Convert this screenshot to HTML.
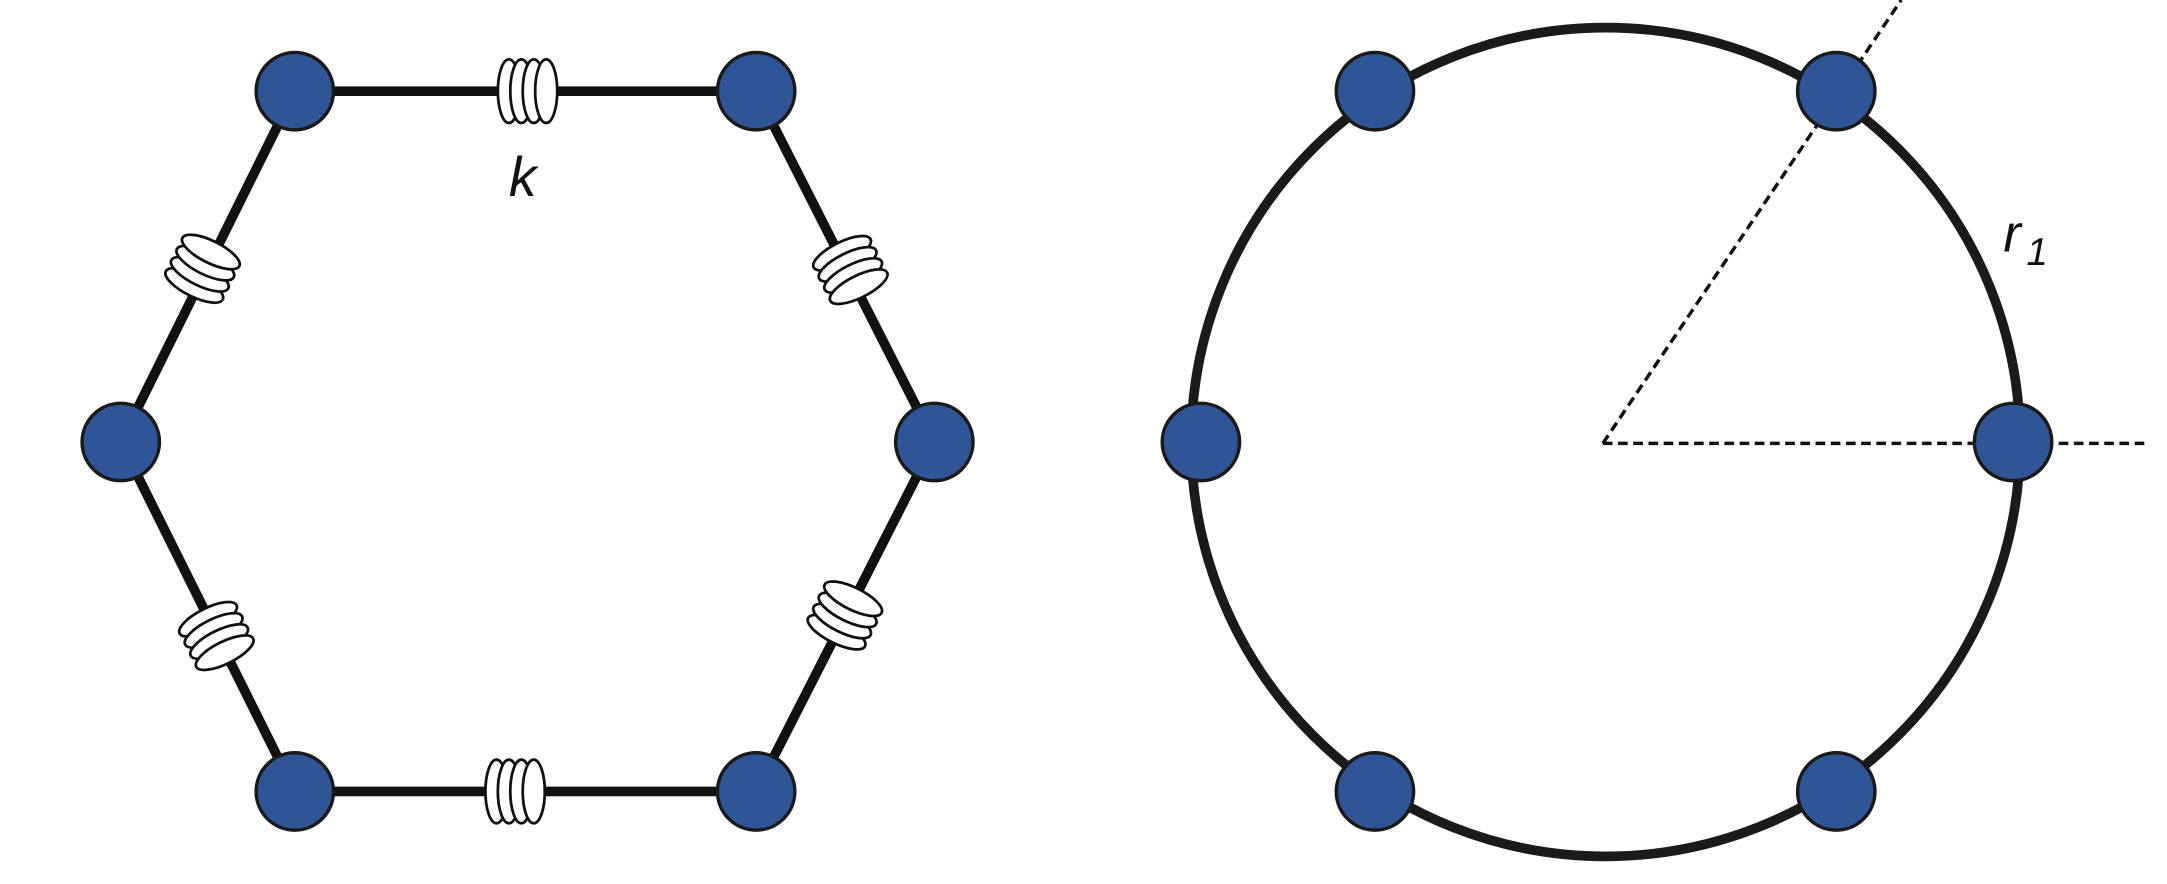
<!DOCTYPE html>
<html><head><meta charset="utf-8"><style>html,body{margin:0;padding:0;background:#fff}svg{display:block}</style></head>
<body>
<svg width="2167" height="884" viewBox="0 0 1568 640" xmlns="http://www.w3.org/2000/svg">
<defs>
<g id="spring">
<ellipse cx="-13" cy="0" rx="8" ry="23" fill="#fff" stroke="#111" stroke-width="2"/>
<ellipse cx="-4" cy="0" rx="8" ry="23" fill="#fff" stroke="#111" stroke-width="2"/>
<ellipse cx="5" cy="0" rx="8" ry="23" fill="#fff" stroke="#111" stroke-width="2"/>
<ellipse cx="14" cy="0" rx="8" ry="23" fill="#fff" stroke="#111" stroke-width="2"/>
</g>
</defs>
<g>
<polygon points="213,66 547,66 676,320 547,573 213,573 87,320" fill="none" stroke="#111" stroke-width="7"/>
<use href="#spring" transform="translate(381,66)"/>
<use href="#spring" transform="translate(372,573)"/>
<use href="#spring" transform="translate(146,195) rotate(-63.6)"/>
<use href="#spring" transform="translate(615,195) rotate(63.6)"/>
<use href="#spring" transform="translate(611,446) rotate(-63.6)"/>
<use href="#spring" transform="translate(156,460) rotate(63.6)"/>
<text x="368" y="142" font-family="Liberation Sans, sans-serif" font-style="italic" font-size="40" fill="#111">k</text>
<g fill="#2f5597" stroke="#1a1a1a" stroke-width="2.5">
<circle cx="213" cy="66" r="28"/>
<circle cx="547" cy="66" r="28"/>
<circle cx="676" cy="320" r="28"/>
<circle cx="547" cy="573" r="28"/>
<circle cx="213" cy="573" r="28"/>
<circle cx="87" cy="320" r="28"/>
</g>
</g>
<g>
<circle cx="1162" cy="320" r="300" fill="none" stroke="#1a1a1a" stroke-width="7"/>
<line x1="1160" y1="321" x2="1555" y2="321" stroke="#111" stroke-width="2.5" stroke-dasharray="7,4"/>
<line x1="1160" y1="321" x2="1376" y2="0" stroke="#111" stroke-width="2.5" stroke-dasharray="7,4"/>
<text x="1450" y="182" font-family="Liberation Sans, sans-serif" font-style="italic" font-size="38" fill="#111">r<tspan font-size="28" dx="4" dy="10">1</tspan></text>
<g fill="#2f5597" stroke="#1a1a1a" stroke-width="2.5">
<circle cx="995" cy="66" r="28"/>
<circle cx="1329" cy="66" r="28"/>
<circle cx="1457" cy="320" r="28"/>
<circle cx="1329" cy="573" r="28"/>
<circle cx="995" cy="573" r="28"/>
<circle cx="869" cy="320" r="28"/>
</g>
</g>
</svg>
</body></html>
